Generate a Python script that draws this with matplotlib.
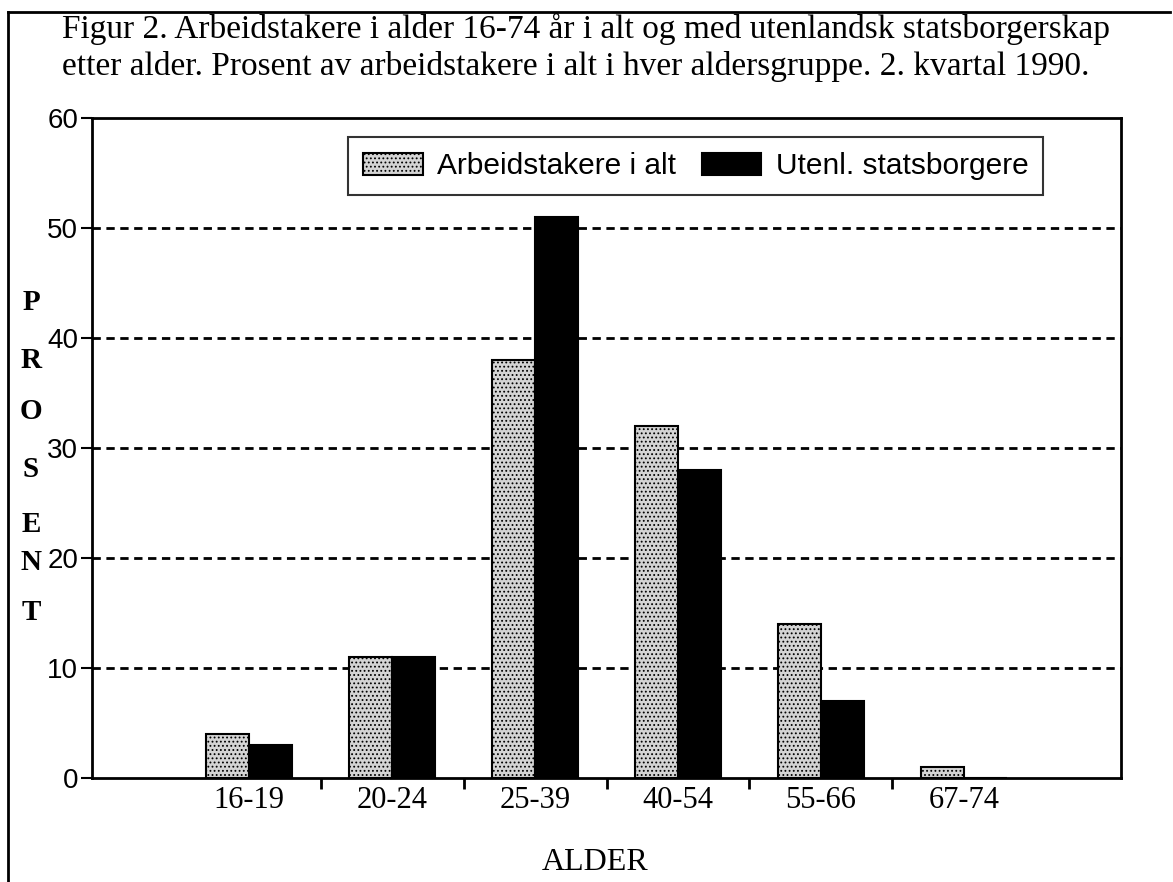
import matplotlib
matplotlib.use("Agg")
import matplotlib.pyplot as plt
from matplotlib.lines import Line2D
import numpy as np

categories = ["16-19", "20-24", "25-39", "40-54", "55-66", "67-74"]
arbeidstakere = [4, 11, 38, 32, 14, 1]
utenlandske = [3, 11, 51, 28, 7, 0]
series_labels = ["Arbeidstakere i alt", "Utenl. statsborgere"]
title_lines = ["Figur 2. Arbeidstakere i alder 16-74 år i alt og med utenlandsk statsborgerskap",
               "etter alder. Prosent av arbeidstakere i alt i hver aldersgruppe. 2. kvartal 1990."]
yticks = [0, 10, 20, 30, 40, 50, 60]
ylabel_letters = "PROSENT"
letter_y_px = [302, 360, 412, 470, 525, 563, 612]

W, H = 1173, 882
plt.rcParams['hatch.linewidth'] = 0.8
fig = plt.figure(figsize=(W/100, H/100), dpi=100)
ax = fig.add_axes([92/W, 1-778/H, (1121-92)/W, (778-118)/H])

x = np.arange(len(categories))
w = 0.30
ax.bar(x - w/2, arbeidstakere, width=w, facecolor="#d4d4d4", edgecolor="black",
       hatch="....", linewidth=1.5, label=series_labels[0], zorder=3)
ax.bar(x + w/2, utenlandske, width=w, facecolor="black", edgecolor="black",
       linewidth=1.5, label=series_labels[1], zorder=3)

ax.set_xlim(-1.098, 6.098)
ax.set_ylim(0, 60)
ax.set_yticks(yticks)
ax.set_yticklabels([str(v) for v in yticks], fontfamily="Liberation Sans", fontsize=20)
for v in yticks[1:-1]:
    ax.axhline(v, color="black", linestyle=(0, (3, 2)), linewidth=2, zorder=1)

ax.set_xticks(x)
ax.set_xticklabels(categories, fontfamily="Liberation Serif", fontsize=22)
ax.tick_params(axis="x", length=0, pad=6)
ax.set_xticks(x[:-1] + 0.5, minor=True)
ax.tick_params(axis="x", which="minor", length=8, width=2, direction="out")
ax.tick_params(axis="y", length=8, width=1.5, direction="out", pad=2)
for s in ax.spines.values():
    s.set_linewidth(2)

leg = ax.legend(loc="upper left", bbox_to_anchor=(0.249, 0.971), ncol=2,
                prop={"family": "Liberation Sans", "size": 21.5}, frameon=True,
                fancybox=False, edgecolor="black", handlelength=2.0, handleheight=0.75,
                columnspacing=0.85, handletextpad=0.48, borderpad=0.5, borderaxespad=0)
leg.get_frame().set_linewidth(1.5)

fig.text(62/W, 1-38/H, title_lines[0], fontfamily="Liberation Serif", fontsize=24,
         va="baseline", ha="left")
fig.text(62/W, 1-75/H, title_lines[1], fontfamily="Liberation Serif", fontsize=24,
         va="baseline", ha="left")

for ch, yp in zip(ylabel_letters, letter_y_px):
    fig.text(31/W, 1-yp/H, ch, fontfamily="Liberation Serif", fontsize=21,
             fontweight="bold", ha="center", va="center")

fig.text(595/W, 1-862/H, "ALDER", fontfamily="Liberation Serif", fontsize=23,
         ha="center", va="center")

fig.add_artist(Line2D([8/W, 8/W], [0, 1-12/H], color="black", linewidth=2,
                      transform=fig.transFigure))
fig.add_artist(Line2D([8/W, 1170/W], [1-12/H, 1-12/H], color="black", linewidth=2,
                      transform=fig.transFigure))

fig.savefig("out.png", dpi=100)
